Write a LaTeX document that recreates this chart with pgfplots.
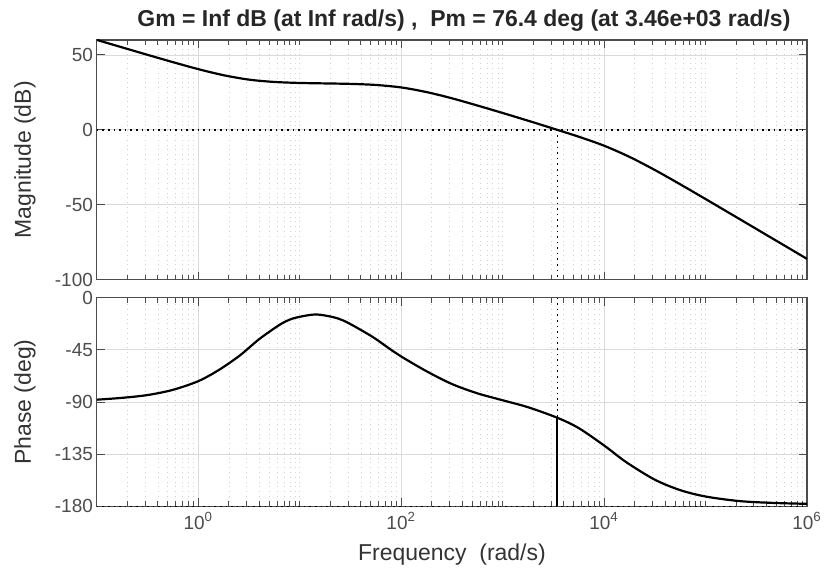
\documentclass[border=0pt]{standalone}
\usepackage{fontspec}
\setmainfont{Liberation Sans}
\usepackage{pgfplots}
\pgfplotsset{compat=1.18}

\definecolor{axgray}{gray}{0.3}

\pgfplotstableread{
w      db
0.1     60.0
0.1778  55.02
0.3162  50.05
0.5623  45.17
1       40.51
1.778   36.45
3.162   33.5
5.623   31.96
10      31.29
17.78   30.98
31.62   30.67
56.23   29.95
100     28.3
177.8   25.2
316.2   21.05
562.3   16.25
1000    11.25
1778    6.1
3162    0.8
5623    -4.6
10000   -10.6
17783   -18.05
31623   -26.81
56234   -36.36
100000  -46.2
177828  -56.15
316228  -66.14
562341  -76.13
1000000 -86.13
}\magdata

\pgfplotstableread{
w      ph
0.1     -88.0
0.1778  -86.4
0.3162  -84.0
0.5623  -79.5
1       -72.0
1.585   -62.5
2.553   -50.0
4.018   -35.5
6.31    -23.5
7.94    -19.0
10      -16.5
14.45   -14.5
21.1    -16.7
26.3    -19.4
33.1    -23.8
52.5    -34.0
81.3    -45.6
100     -50.8
177.8   -63.5
316.2   -74.5
562.3   -82.5
1000    -88.5
1778    -94.5
3460    -103.6
5623    -112.5
10000   -127.5
16596   -142.0
31623   -157.0
56234   -166.0
100000  -171.5
213796  -175.4
457088  -177.0
1000000 -177.8
}\phdata

\pgfplotsset{
  every axis/.append style={
    grid=both,
    major grid style={black!14, line width=0.4pt},
    minor grid style={black!18, dotted, line width=0.35pt},
    axis line style={axgray, line width=0.6pt},
    tick style={axgray, line width=0.5pt},
    major tick length=4pt, minor tick length=2.5pt,
    tick align=inside,
    /pgf/number format/assume math mode=true,
    tick label style={font=\fontsize{9.5}{11}\selectfont, text=black!70, inner sep=0.8pt},
    yticklabel style={xshift=-1pt},
    xticklabel style={yshift=-2pt},
    label style={font=\fontsize{11.5}{13}\selectfont, text=black!80},
    ylabel style={at={(axis description cs:-0.1013,0.5)}, anchor=center},
  }
}

\begin{document}
\begin{tikzpicture}
\begin{axis}[name=mag,
  xmode=log, scale only axis, width=355.5pt,
  xmin=0.1, xmax=1e6,
  xtick={1,100,1e4,1e6},
  minor xtick={0.2,0.3,0.4,0.5,0.6,0.7,0.8,0.9,
    2,3,4,5,6,7,8,9,10,20,30,40,50,60,70,80,90,
    200,300,400,500,600,700,800,900,1000,2000,3000,4000,5000,6000,7000,8000,9000,
    2e4,3e4,4e4,5e4,6e4,7e4,8e4,9e4,1e5,2e5,3e5,4e5,5e5,6e5,7e5,8e5,9e5},
  at={(0,0)}, anchor=south west,
  height=120pt,
  ymin=-100, ymax=60,
  ytick={-100,-50,0,50},
  xticklabels={},
  ylabel={Magnitude (dB)},
  title={\fontsize{11.5}{13}\selectfont\bfseries Gm = Inf dB (at Inf rad/s) ,\ \ Pm = 76.4 deg (at 3.46e+03 rad/s)},
  title style={xshift=6pt, yshift=-5.2pt, text=black!85},
]
\coordinate (tl) at (rel axis cs:0,1);
\addplot[black, dotted, line width=0.8pt] coordinates {(0.1,0) (1e6,0)};
\addplot[black, dotted, line width=0.8pt] coordinates {(3460,0) (3460,-100)};
\addplot[black, line width=1.1pt, smooth] table[x=w, y=db] {\magdata};
\end{axis}

\begin{axis}[name=phase,
  xmode=log, scale only axis, width=355.5pt,
  xmin=0.1, xmax=1e6,
  xtick={1,100,1e4,1e6},
  minor xtick={0.2,0.3,0.4,0.5,0.6,0.7,0.8,0.9,
    2,3,4,5,6,7,8,9,10,20,30,40,50,60,70,80,90,
    200,300,400,500,600,700,800,900,1000,2000,3000,4000,5000,6000,7000,8000,9000,
    2e4,3e4,4e4,5e4,6e4,7e4,8e4,9e4,1e5,2e5,3e5,4e5,5e5,6e5,7e5,8e5,9e5},
  at={(0,-9pt)}, anchor=north west,
  height=104.5pt,
  ymin=-180, ymax=0,
  ytick={-180,-135,-90,-45,0},
  xticklabels={10\textsuperscript{0},10\textsuperscript{2},10\textsuperscript{4},10\textsuperscript{6}},
  ylabel={Phase (deg)},
  xlabel={Frequency\ \ (rad/s)},
  xlabel style={at={(axis description cs:0.5,-0.23)}, anchor=center},
]
\addplot[black, dotted, line width=0.8pt] coordinates {(0.1,-180) (1e6,-180)};
\addplot[black, dotted, line width=0.8pt] coordinates {(3460,0) (3460,-103.6)};
\addplot[black, line width=1pt] coordinates {(3460,-103.6) (3460,-180)};
\addplot[black, line width=1.1pt, smooth] table[x=w, y=ph] {\phdata};
\end{axis}

\path ([xshift=-48.5pt,yshift=20pt]tl) rectangle ([xshift=364.5pt,yshift=-268.5pt]tl);
\end{tikzpicture}
\end{document}
